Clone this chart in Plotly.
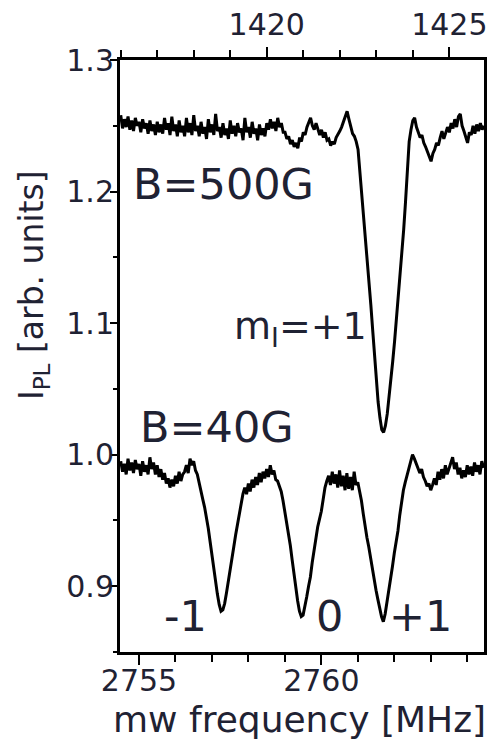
import plotly.graph_objects as go

# ---- data: B = 500 G trace (top axis, MHz) ----
f_top = [1416.00, 1416.05, 1416.10, 1416.15, 1416.20, 1416.25, 1416.30, 1416.35, 1416.40, 1416.45,
         1416.50, 1416.55, 1416.60, 1416.65, 1416.70, 1416.75, 1416.80, 1416.85, 1416.90, 1416.95,
         1417.00, 1417.05, 1417.10, 1417.15, 1417.20, 1417.25, 1417.30, 1417.35, 1417.40, 1417.45,
         1417.50, 1417.55, 1417.60, 1417.65, 1417.70, 1417.75, 1417.80, 1417.85, 1417.90, 1417.95,
         1418.00, 1418.05, 1418.10, 1418.15, 1418.20, 1418.25, 1418.30, 1418.35, 1418.40, 1418.45,
         1418.50, 1418.55, 1418.60, 1418.65, 1418.70, 1418.75, 1418.80, 1418.85, 1418.90, 1418.95,
         1419.00, 1419.05, 1419.10, 1419.15, 1419.20, 1419.25, 1419.30, 1419.35, 1419.40, 1419.45,
         1419.50, 1419.55, 1419.60, 1419.65, 1419.70, 1419.75, 1419.80, 1419.85, 1419.90, 1419.95,
         1420.00, 1420.05, 1420.10, 1420.15, 1420.20, 1420.25, 1420.30, 1420.35, 1420.40, 1420.45,
         1420.50, 1420.55, 1420.60, 1420.65, 1420.70, 1420.75, 1420.80, 1420.85, 1420.90, 1420.95,
         1421.00, 1421.05, 1421.10, 1421.15, 1421.20, 1421.25, 1421.30, 1421.35, 1421.40, 1421.45,
         1421.50, 1421.55, 1421.60, 1421.65, 1421.70, 1421.75, 1421.80, 1421.85, 1421.90, 1421.95,
         1422.00, 1422.05, 1422.10, 1422.15, 1422.20, 1422.25, 1422.30, 1422.35, 1422.40, 1422.45,
         1422.50, 1422.55, 1422.60, 1422.65, 1422.70, 1422.75, 1422.80, 1422.85, 1422.90, 1422.95,
         1423.00, 1423.05, 1423.10, 1423.15, 1423.20, 1423.25, 1423.30, 1423.35, 1423.40, 1423.45,
         1423.50, 1423.55, 1423.60, 1423.65, 1423.70, 1423.75, 1423.80, 1423.85, 1423.90, 1423.95,
         1424.00, 1424.05, 1424.10, 1424.15, 1424.20, 1424.25, 1424.30, 1424.35, 1424.40, 1424.45,
         1424.50, 1424.55, 1424.60, 1424.65, 1424.70, 1424.75, 1424.80, 1424.85, 1424.90, 1424.95,
         1425.00, 1425.05, 1425.10, 1425.15, 1425.20, 1425.25, 1425.30, 1425.35, 1425.40, 1425.45,
         1425.50, 1425.55, 1425.60, 1425.65, 1425.70, 1425.75, 1425.80, 1425.85, 1425.90, 1425.95]
i_top = [1.258, 1.248, 1.255, 1.249, 1.257, 1.247, 1.254, 1.246, 1.256, 1.250,
         1.253, 1.245, 1.255, 1.248, 1.252, 1.244, 1.254, 1.246, 1.251, 1.243,
         1.253, 1.245, 1.251, 1.244, 1.256, 1.247, 1.252, 1.243, 1.257, 1.246,
         1.251, 1.242, 1.254, 1.245, 1.250, 1.242, 1.256, 1.245, 1.252, 1.243,
         1.258, 1.246, 1.250, 1.242, 1.253, 1.244, 1.249, 1.240, 1.255, 1.245,
         1.251, 1.243, 1.259, 1.246, 1.249, 1.241, 1.252, 1.243, 1.248, 1.240,
         1.254, 1.244, 1.250, 1.242, 1.252, 1.245, 1.248, 1.239, 1.256, 1.245,
         1.249, 1.241, 1.253, 1.244, 1.248, 1.239, 1.251, 1.243, 1.248, 1.242,
         1.252, 1.247, 1.255, 1.248, 1.253, 1.246, 1.256, 1.249, 1.252, 1.245,
         1.245, 1.240, 1.242, 1.236, 1.239, 1.234, 1.237, 1.233, 1.241, 1.238,
         1.245, 1.243, 1.249, 1.252, 1.256, 1.250, 1.247, 1.252, 1.248, 1.243,
         1.247, 1.241, 1.245, 1.239, 1.240, 1.235, 1.238, 1.236, 1.241, 1.243,
         1.246, 1.249, 1.253, 1.257, 1.261, 1.255, 1.250, 1.244, 1.242, 1.238,
         1.232, 1.216, 1.200, 1.184, 1.168, 1.151, 1.133, 1.114, 1.095, 1.075,
         1.055, 1.040, 1.028, 1.019, 1.017, 1.022, 1.031, 1.043, 1.056, 1.071,
         1.086, 1.102, 1.118, 1.135, 1.152, 1.171, 1.192, 1.215, 1.238, 1.247,
         1.254, 1.256, 1.249, 1.245, 1.241, 1.243, 1.237, 1.234, 1.230, 1.227,
         1.223, 1.229, 1.232, 1.237, 1.235, 1.241, 1.246, 1.240, 1.244, 1.249,
         1.245, 1.252, 1.248, 1.255, 1.249, 1.257, 1.259, 1.250, 1.246, 1.241,
         1.237, 1.245, 1.243, 1.250, 1.244, 1.251, 1.246, 1.252, 1.247, 1.250]

# ---- data: B = 40 G trace (bottom axis, MHz) ----
f_bot = [2754.50, 2754.55, 2754.60, 2754.65, 2754.70, 2754.75, 2754.80, 2754.85, 2754.90, 2754.95,
         2755.00, 2755.05, 2755.10, 2755.15, 2755.20, 2755.25, 2755.30, 2755.35, 2755.40, 2755.45,
         2755.50, 2755.55, 2755.60, 2755.65, 2755.70, 2755.75, 2755.80, 2755.85, 2755.90, 2755.95,
         2756.00, 2756.05, 2756.10, 2756.15, 2756.20, 2756.25, 2756.30, 2756.35, 2756.40, 2756.45,
         2756.50, 2756.55, 2756.60, 2756.65, 2756.70, 2756.75, 2756.80, 2756.85, 2756.90, 2756.95,
         2757.00, 2757.05, 2757.10, 2757.15, 2757.20, 2757.25, 2757.30, 2757.35, 2757.40, 2757.45,
         2757.50, 2757.55, 2757.60, 2757.65, 2757.70, 2757.75, 2757.80, 2757.85, 2757.90, 2757.95,
         2758.00, 2758.05, 2758.10, 2758.15, 2758.20, 2758.25, 2758.30, 2758.35, 2758.40, 2758.45,
         2758.50, 2758.55, 2758.60, 2758.65, 2758.70, 2758.75, 2758.80, 2758.85, 2758.90, 2758.95,
         2759.00, 2759.05, 2759.10, 2759.15, 2759.20, 2759.25, 2759.30, 2759.35, 2759.40, 2759.45,
         2759.50, 2759.55, 2759.60, 2759.65, 2759.70, 2759.75, 2759.80, 2759.85, 2759.90, 2759.95,
         2760.00, 2760.05, 2760.10, 2760.15, 2760.20, 2760.25, 2760.30, 2760.35, 2760.40, 2760.45,
         2760.50, 2760.55, 2760.60, 2760.65, 2760.70, 2760.75, 2760.80, 2760.85, 2760.90, 2760.95,
         2761.00, 2761.05, 2761.10, 2761.15, 2761.20, 2761.25, 2761.30, 2761.35, 2761.40, 2761.45,
         2761.50, 2761.55, 2761.60, 2761.65, 2761.70, 2761.75, 2761.80, 2761.85, 2761.90, 2761.95,
         2762.00, 2762.05, 2762.10, 2762.15, 2762.20, 2762.25, 2762.30, 2762.35, 2762.40, 2762.45,
         2762.50, 2762.55, 2762.60, 2762.65, 2762.70, 2762.75, 2762.80, 2762.85, 2762.90, 2762.95,
         2763.00, 2763.05, 2763.10, 2763.15, 2763.20, 2763.25, 2763.30, 2763.35, 2763.40, 2763.45,
         2763.50, 2763.55, 2763.60, 2763.65, 2763.70, 2763.75, 2763.80, 2763.85, 2763.90, 2763.95,
         2764.00, 2764.05, 2764.10, 2764.15, 2764.20, 2764.25, 2764.30, 2764.35, 2764.40, 2764.45]
i_bot = [0.995, 0.987, 0.993, 0.985, 0.997, 0.988, 0.994, 0.986, 0.996, 0.989,
         0.993, 0.984, 0.995, 0.987, 0.992, 0.985, 0.998, 0.989, 0.994, 0.985,
         0.992, 0.983, 0.989, 0.981, 0.986, 0.978, 0.982, 0.975, 0.981, 0.976,
         0.984, 0.978, 0.987, 0.980, 0.985, 0.987, 0.992, 0.986, 0.997, 0.992,
         0.995, 0.988, 0.985, 0.978, 0.971, 0.966, 0.960, 0.953, 0.944, 0.934,
         0.923, 0.914, 0.904, 0.894, 0.886, 0.881, 0.882, 0.887, 0.895, 0.903,
         0.911, 0.920, 0.930, 0.939, 0.947, 0.956, 0.963, 0.970, 0.975, 0.970,
         0.978, 0.972, 0.981, 0.975, 0.983, 0.977, 0.986, 0.979, 0.987, 0.982,
         0.989, 0.983, 0.992, 0.985, 0.988, 0.981, 0.980, 0.976, 0.972, 0.965,
         0.957, 0.950, 0.941, 0.931, 0.920, 0.909, 0.898, 0.889, 0.881, 0.877,
         0.878, 0.884, 0.892, 0.900, 0.907, 0.918, 0.928, 0.937, 0.945, 0.951,
         0.957, 0.966, 0.975, 0.980, 0.984, 0.977, 0.987, 0.978, 0.985, 0.975,
         0.988, 0.976, 0.984, 0.973, 0.986, 0.974, 0.983, 0.973, 0.987, 0.977,
         0.979, 0.972, 0.965, 0.955, 0.945, 0.937, 0.930, 0.921, 0.913, 0.905,
         0.897, 0.890, 0.883, 0.877, 0.873, 0.879, 0.888, 0.896, 0.905, 0.915,
         0.925, 0.933, 0.942, 0.954, 0.965, 0.973, 0.979, 0.984, 0.988, 0.995,
         1.000, 0.997, 0.993, 0.990, 0.986, 0.989, 0.983, 0.980, 0.976, 0.978,
         0.973, 0.977, 0.982, 0.977, 0.987, 0.981, 0.989, 0.982, 0.992, 0.985,
         0.990, 0.994, 0.998, 0.989, 0.994, 0.985, 0.990, 0.982, 0.988, 0.983,
         0.992, 0.985, 0.991, 0.984, 0.994, 0.987, 0.992, 0.985, 0.995, 0.990]

y_ticks = [0.9, 1.0, 1.1, 1.2, 1.3]
y_ticklabels = ["0.9", "1.0", "1.1", "1.2", "1.3"]
x_bot_ticks = [2755, 2760]
x_top_ticks = [1420, 1425]

FONT = "DejaVu Sans, Arial, sans-serif"
TXT = "#1f2233"

fig = go.Figure()
fig.add_trace(go.Scatter(x=f_bot, y=i_bot, mode="lines", xaxis="x", yaxis="y",
                         line=dict(color="black", width=3), showlegend=False))
fig.add_trace(go.Scatter(x=f_top, y=i_top, mode="lines", xaxis="x2", yaxis="y",
                         line=dict(color="black", width=3), showlegend=False))

axis_common = dict(showgrid=False, zeroline=False, showline=True, linecolor="black",
                   linewidth=3, ticks="outside", tickcolor="black", tickwidth=2,
                   tickfont=dict(family=FONT, size=30, color=TXT))

fig.update_layout(
    width=494, height=749,
    margin=dict(l=120, r=7, t=55, b=97),
    paper_bgcolor="white", plot_bgcolor="white",
    xaxis=dict(range=[2754.48, 2764.46], tickvals=x_bot_ticks, ticklen=10, ticklabelstandoff=-10,
               minor=dict(dtick=1, tick0=2755, ticklen=7, ticks="outside", tickcolor="black", tickwidth=2),
               **axis_common),
    xaxis2=dict(range=[1415.98, 1425.95], tickvals=x_top_ticks, ticklen=10, overlaying="x", side="top",
                anchor="y",
                minor=dict(dtick=1, tick0=1420, ticklen=7, ticks="outside", tickcolor="black", tickwidth=2),
                **axis_common),
    yaxis=dict(range=[0.85, 1.3], tickvals=y_ticks, ticktext=y_ticklabels, ticklen=7, mirror=True,
               ticklabelstandoff=-10,
               minor=dict(dtick=0.05, tick0=0.85, ticklen=4, ticks="outside", tickcolor="black", tickwidth=2),
               **axis_common),
)

ann_font = dict(family=FONT, size=43, color=TXT)
fig.add_annotation(x=2757.31, y=1.206, xref="x", yref="y", text="B=500G", showarrow=False, font=ann_font)
fig.add_annotation(x=2757.15, y=1.021, xref="x", yref="y", text="B=40G", showarrow=False, font=ann_font)
fig.add_annotation(x=2759.42, y=1.096, xref="x", yref="y", text="m<sub>I</sub>=+1", showarrow=False,
                   font=dict(family=FONT, size=38, color=TXT))
fig.add_annotation(x=2756.28, y=0.877, xref="x", yref="y", text="-1", showarrow=False, font=ann_font)
fig.add_annotation(x=2760.22, y=0.877, xref="x", yref="y", text="0", showarrow=False, font=ann_font)
fig.add_annotation(x=2762.72, y=0.877, xref="x", yref="y", text="+1", showarrow=False, font=ann_font)

# axis titles
fig.add_annotation(x=0.493, y=-0.114, xref="paper", yref="paper", xanchor="center", yanchor="middle",
                   text="mw frequency [MHz]", showarrow=False, font=dict(family=FONT, size=36, color=TXT))
fig.add_annotation(x=-0.236, y=0.62, xref="paper", yref="paper", xanchor="center", yanchor="middle",
                   text="I<sub>PL</sub> [arb. units]", textangle=-90, showarrow=False,
                   font=dict(family=FONT, size=33, color=TXT))

fig.write_html("out.html")
